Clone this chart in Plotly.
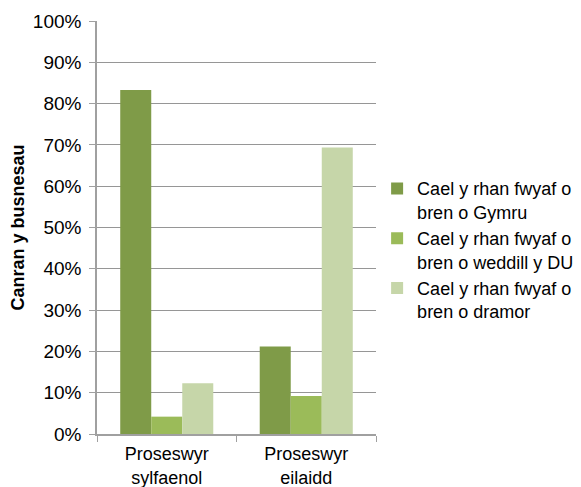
import plotly.graph_objects as go

categories = ["Proseswyr<br>sylfaenol", "Proseswyr<br>eilaidd"]
series_names = [
    "Cael y rhan fwyaf o<br>bren o Gymru",
    "Cael y rhan fwyaf o<br>bren o weddill y DU",
    "Cael y rhan fwyaf o<br>bren o dramor",
]
wales = [0.833, 0.212]
rest_of_uk = [0.042, 0.092]
abroad = [0.123, 0.694]
colors = ["#7F9B48", "#9BBB59", "#C6D6A9"]

FONT = "Arial, Liberation Sans, sans-serif"

fig = go.Figure()
for name, vals, col in zip(series_names, [wales, rest_of_uk, abroad], colors):
    fig.add_trace(go.Bar(
        x=categories, y=vals, name=name,
        marker=dict(color=col, line=dict(width=0)),
    ))

fig.update_layout(
    width=581, height=487,
    margin=dict(l=97, r=205, t=21, b=53, autoexpand=False),
    paper_bgcolor="white", plot_bgcolor="white",
    barmode="group", bargap=0.333, bargroupgap=0,
    font=dict(family=FONT, size=19, color="#000000"),
    showlegend=True,
    legend=dict(
        x=1.004, xanchor="left", y=0.445, yanchor="middle",
        font=dict(family=FONT, size=18, color="#000000"),
        bgcolor="rgba(0,0,0,0)", traceorder="normal", valign="top",
    ),
)
fig.update_xaxes(
    showline=True, linecolor="#A0A0A0", linewidth=1.5,
    ticks="outside", ticklen=6, tickcolor="#A0A0A0", tickson="boundaries",
    tickfont=dict(family=FONT, size=18, color="#000000"),
    ticklabelstandoff=3, automargin=False,
    showgrid=False,
)
fig.update_yaxes(
    range=[0, 1], dtick=0.1, tickformat=".0%",
    showline=True, linecolor="#A0A0A0", linewidth=1.5,
    ticks="outside", ticklen=6, tickcolor="#A0A0A0",
    ticklabelstandoff=4, automargin=False,
    showgrid=True, gridcolor="#969696", gridwidth=1.2,
    tickfont=dict(family=FONT, size=19, color="#000000"),
    title=dict(text="<b>Canran y busnesau</b>", font=dict(family=FONT, size=18, color="#000000"), standoff=4),
    zeroline=False,
)

fig.write_html("out.html")
